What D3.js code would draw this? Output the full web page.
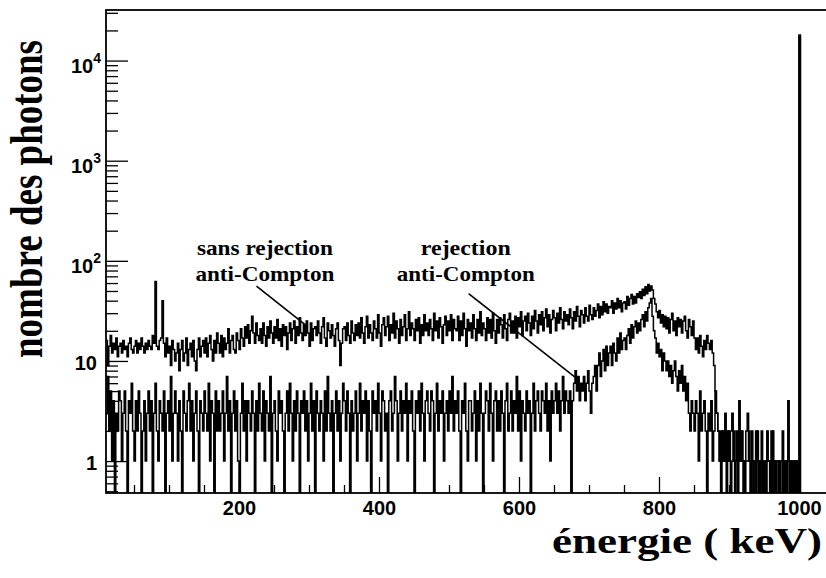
<!DOCTYPE html>
<html>
<head>
<meta charset="utf-8">
<script src="https://cdn.jsdelivr.net/npm/d3@7"></script>
<style>
  body { margin: 0; background: #fff; }
  svg { display: block; background: #fff; }
</style>
</head>
<body>
<svg id="chart"></svg>
<script>
// histogrammes, bins de 2 keV a partir de 10 keV
var binStart = 10;
var binWidth = 2;

// sans rejection anti-Compton
var sansRejection = [
  16, 9, 14, 18, 12, 15, 13, 17, 11, 14,
  15, 12, 16, 13, 14, 11, 15, 17, 13, 12,
  14, 16, 12, 15, 13, 17, 14, 12, 15, 13,
  16, 14, 13, 18, 15, 62, 14, 13, 16, 17,
  40, 15, 11, 17, 12, 14, 9, 16, 13, 10,
  12, 15, 8, 13, 16, 10, 12, 17, 9, 13,
  15, 11, 16, 10, 8, 13, 17, 11, 14, 16,
  12, 17, 11, 15, 18, 13, 10, 16, 12, 19,
  15, 12, 18, 11, 17, 13, 15, 21, 12, 16,
  18, 13, 12, 19, 16, 13, 21, 17, 14, 22,
  17, 23, 15, 20, 28, 19, 15, 24, 18, 16,
  21, 15, 24, 18, 14, 22, 17, 25, 19, 15,
  22, 17, 26, 16, 21, 14, 23, 18, 22, 13,
  19, 24, 16, 21, 25, 15, 22, 18, 27, 19,
  16, 23, 18, 25, 19, 14, 24, 16, 21, 22,
  18, 25, 19, 15, 22, 27, 17, 14, 24, 20,
  17, 23, 18, 14, 21, 24, 16, 9, 15, 21,
  22, 16, 24, 18, 15, 25, 19, 16, 23, 18,
  24, 17, 27, 19, 15, 22, 28, 17, 23, 19,
  16, 25, 21, 17, 29, 19, 14, 23, 27, 18,
  22, 28, 16, 23, 19, 30, 17, 25, 21, 15,
  26, 18, 22, 29, 16, 21, 31, 18, 24, 21,
  16, 26, 20, 27, 15, 23, 18, 29, 20, 24,
  18, 26, 21, 16, 30, 20, 25, 17, 27, 22,
  15, 23, 28, 18, 25, 20, 29, 16, 26, 21,
  20, 28, 16, 25, 18, 30, 21, 14, 26, 20,
  24, 17, 29, 21, 16, 26, 19, 31, 18, 24,
  21, 16, 27, 19, 26, 17, 30, 20, 15, 26,
  19, 27, 23, 17, 29, 21, 16, 26, 30, 19,
  25, 19, 28, 17, 27, 22, 31, 18, 25, 28,
  20, 30, 24, 18, 28, 21, 32, 25, 19, 29,
  23, 31, 20, 27, 33, 22, 29, 19, 26, 32,
  27, 20, 30, 24, 34, 26, 21, 31, 25, 29,
  23, 33, 27, 21, 31, 25, 35, 28, 22, 32,
  29, 24, 34, 28, 25, 36, 29, 26, 34, 28,
  32, 37, 27, 35, 29, 39, 31, 37, 30, 35,
  34, 40, 30, 38, 33, 42, 34, 40, 31, 38,
  39, 33, 44, 36, 42, 46, 37, 44, 38, 47,
  43, 49, 42, 52, 45, 55, 47, 58, 50, 56,
  51, 42, 37, 31, 27, 32, 24, 29, 22, 28,
  21, 27, 19, 26, 30, 20, 25, 18, 27, 22,
  26, 19, 25, 28, 20, 17, 26, 22, 18, 25,
  17, 13, 17, 12, 18, 14, 11, 16, 13, 18,
  15, 13, 16, 12, 9, 5, 3, 2, 1, 2,
  1, 2, 1, 1, 2, 1, 0, 1, 2, 1,
  1, 0, 1, 2, 1, 1, 0, 1, 1, 2,
  1, 1, 0, 1, 2, 1, 0, 1, 1, 0,
  1, 0, 1, 1, 0, 2, 1, 0, 1, 1,
  0, 1, 1, 0, 1, 0, 1, 1, 0, 1,
  1, 0, 1, 0, 1, 18000, 0, 0, 0, 0
];

// avec rejection anti-Compton
var avecRejection = [
  3, 7, 2, 5, 1, 4, 0, 3, 2, 5,
  4, 1, 3, 5, 2, 0, 4, 3, 6, 2,
  1, 4, 2, 5, 3, 0, 2, 4, 1, 3,
  5, 2, 4, 0, 3, 6, 2, 1, 4, 3,
  2, 5, 0, 3, 4, 2, 7, 1, 3, 5,
  3, 1, 4, 2, 0, 5, 3, 2, 4, 6,
  2, 4, 1, 3, 5, 2, 0, 4, 3, 2,
  5, 3, 2, 6, 1, 4, 3, 0, 5, 2,
  4, 2, 3, 5, 1, 3, 7, 2, 4, 0,
  3, 5, 2, 4, 1, 0, 3, 6, 2, 4,
  1, 4, 3, 2, 5, 3, 0, 4, 2, 6,
  3, 2, 5, 1, 4, 3, 2, 7, 0, 3,
  4, 2, 1, 5, 3, 4, 2, 0, 3, 5,
  2, 6, 3, 1, 4, 2, 5, 3, 0, 4,
  3, 5, 2, 4, 1, 3, 6, 2, 4, 0,
  5, 3, 2, 4, 3, 1, 5, 2, 7, 3,
  2, 4, 0, 3, 5, 2, 4, 1, 3, 6,
  4, 2, 5, 3, 0, 4, 2, 3, 5, 1,
  3, 6, 2, 4, 3, 5, 1, 4, 2, 0,
  5, 3, 4, 2, 6, 3, 1, 5, 4, 2,
  3, 0, 4, 5, 2, 3, 7, 4, 1, 3,
  5, 2, 4, 3, 6, 1, 4, 3, 5, 2,
  0, 4, 3, 5, 2, 6, 3, 1, 4, 5,
  3, 2, 5, 4, 0, 3, 6, 2, 4, 3,
  5, 1, 3, 4, 2, 5, 3, 7, 2, 4,
  3, 5, 2, 0, 4, 3, 6, 2, 1, 4,
  4, 2, 3, 5, 1, 4, 2, 6, 3, 0,
  3, 5, 4, 2, 6, 3, 1, 4, 5, 2,
  4, 2, 5, 3, 0, 4, 6, 2, 3, 5,
  2, 4, 3, 7, 2, 5, 1, 4, 3, 2,
  5, 3, 4, 0, 3, 6, 2, 4, 5, 3,
  2, 5, 4, 3, 6, 2, 4, 1, 5, 3,
  4, 6, 3, 5, 2, 4, 7, 3, 5, 4,
  3, 5, 0, 4, 6, 8, 5, 7, 4, 6,
  5, 7, 4, 6, 8, 5, 3, 6, 7, 9,
  5, 9, 12, 7, 10, 13, 8, 14, 9, 12,
  14, 9, 15, 12, 10, 17, 12, 19, 13, 16,
  17, 13, 18, 21, 15, 23, 17, 22, 25, 19,
  24, 20, 26, 29, 22, 31, 25, 34, 38, 42,
  28, 20, 17, 12, 15, 11, 13, 8, 12, 10,
  8, 10, 7, 9, 6, 8, 10, 7, 5, 8,
  6, 9, 5, 7, 4, 6, 3, 2, 4, 3,
  2, 4, 3, 1, 5, 2, 3, 4, 2, 0,
  3, 2, 4, 1, 2, 5, 3, 2, 1, 0,
  2, 1, 3, 0, 2, 1, 2, 3, 1, 0,
  2, 1, 4, 1, 2, 0, 1, 2, 3, 1,
  0, 2, 1, 1, 0, 2, 1, 0, 2, 1,
  1, 0, 2, 1, 1, 0, 2, 1, 0, 1,
  1, 0, 1, 2, 0, 1, 0, 4, 1, 0,
  1, 0, 1, 1, 0, 17500, 0, 0, 0, 0
];

var xMajorTicks = [200, 400, 600, 800, 1000];
var xMinorTicks = [50, 100, 150, 250, 300, 350, 450, 500, 550, 650, 700, 750, 850, 900, 950];
var yMajorTicks = [1, 10, 100, 1000, 10000];
var yTickBase = ["1", "10", "10", "10", "10"];
var yTickExp = ["", "", "2", "3", "4"];
var annotationLeft = ["sans rejection", "anti-Compton"];
var annotationRight = ["rejection", "anti-Compton"];

var width = 826;
var height = 578;
var frameL = 106, frameR = 827, frameT = 10, frameB = 493;

var svg = d3.select("#chart")
  .attr("width", width)
  .attr("height", height);

var x = d3.scaleLinear().domain([10, 1040]).range([frameL, frameR]);
var y = d3.scaleLog().domain([0.48, 32000]).range([frameB, frameT]);

svg.append("defs").append("clipPath")
  .attr("id", "plotclip")
  .append("rect")
  .attr("x", frameL).attr("y", frameT)
  .attr("width", frameR - frameL).attr("height", frameB - frameT);

function histPoints(values) {
  var pts = values.map(function (v, i) { return [binStart + i * binWidth, v]; });
  pts.push([binStart + values.length * binWidth, values[values.length - 1]]);
  return pts;
}

var histLine = d3.line()
  .x(d => x(d[0]))
  .y(d => y(Math.max(d[1], 0.3)))
  .curve(d3.curveStepAfter);

var hists = svg.append("g").attr("clip-path", "url(#plotclip)");

[avecRejection, sansRejection].forEach(function (serie) {
  hists.append("path")
    .attr("d", histLine(histPoints(serie)))
    .attr("fill", "none")
    .attr("stroke", "#000")
    .attr("stroke-width", 1.5);
});

// minor y ticks: 2..9 per decade
var yMinorTicks = [];
d3.range(-1, 5).forEach(function (n) {
  d3.range(2, 10).forEach(function (k) {
    var v = k * Math.pow(10, n);
    if (v >= 0.48 && v <= 32000) yMinorTicks.push(v);
  });
});

function styleAxis(g) {
  g.select(".domain").remove();
  g.selectAll(".tick line").attr("stroke", "#000").attr("stroke-width", 1.3);
}

svg.append("g")
  .attr("transform", "translate(" + frameL + ",0)")
  .call(d3.axisLeft(y).tickValues(yMinorTicks).tickSize(-12).tickFormat(""))
  .call(styleAxis);

svg.append("g")
  .attr("transform", "translate(" + frameL + ",0)")
  .call(d3.axisLeft(y).tickValues(yMajorTicks).tickSize(-22).tickFormat(""))
  .call(styleAxis);

svg.append("g")
  .attr("transform", "translate(0," + frameB + ")")
  .call(d3.axisBottom(x).tickValues(xMinorTicks).tickSize(-8).tickFormat(""))
  .call(styleAxis);

var xAxis = svg.append("g")
  .attr("transform", "translate(0," + frameB + ")")
  .call(d3.axisBottom(x).tickValues(xMajorTicks).tickSize(-16).tickPadding(8).tickFormat(d3.format("d")))
  .call(styleAxis);

xAxis.selectAll(".tick text")
  .attr("fill", "#000")
  .style("font-family", "'Liberation Sans', Arial, sans-serif")
  .style("font-weight", "bold")
  .style("font-size", "20px");

// y tick labels with exponents
var yLabels = svg.append("g")
  .style("font-family", "'Liberation Sans', Arial, sans-serif")
  .style("font-weight", "bold")
  .attr("fill", "#000");

yMajorTicks.forEach(function (v, i) {
  var hasExp = yTickExp[i] !== "";
  var t = yLabels.append("text")
    .attr("x", hasExp ? 101 : 97)
    .attr("y", y(v) + (hasExp ? 12 : 9))
    .attr("text-anchor", "end")
    .style("font-size", "20px");
  t.append("tspan").text(yTickBase[i]);
  if (hasExp) {
    t.append("tspan").attr("dy", -10).style("font-size", "14px").text(yTickExp[i]);
  }
});

// frame
svg.append("rect")
  .attr("x", frameL).attr("y", frameT)
  .attr("width", frameR - frameL).attr("height", frameB - frameT)
  .attr("fill", "none")
  .attr("stroke", "#000")
  .attr("stroke-width", 1.8);

// axis titles
svg.append("text")
  .attr("transform", "translate(42,199) scale(1.3,1) rotate(-90)")
  .attr("text-anchor", "middle")
  .attr("textLength", 318)
  .attr("lengthAdjust", "spacingAndGlyphs")
  .style("font-family", "'Liberation Serif', 'Times New Roman', serif")
  .style("font-weight", "bold")
  .style("font-size", "35px")
  .text("nombre des photons");

svg.append("text")
  .attr("x", 552)
  .attr("y", 553)
  .attr("textLength", 270)
  .attr("lengthAdjust", "spacingAndGlyphs")
  .style("font-family", "'Liberation Serif', 'Times New Roman', serif")
  .style("font-weight", "bold")
  .style("font-size", "35px")
  .text("énergie ( keV)");

// annotations
var annot = svg.append("g")
  .style("font-family", "'Liberation Serif', 'Times New Roman', serif")
  .style("font-weight", "bold")
  .style("font-size", "21px");

function addAnnotation(lines, cx, widths) {
  lines.forEach(function (s, i) {
    annot.append("text")
      .attr("x", x(cx))
      .attr("y", y(i === 0 ? 115 : 63))
      .attr("text-anchor", "middle")
      .attr("textLength", widths[i])
      .attr("lengthAdjust", "spacingAndGlyphs")
      .text(s);
  });
}
addAnnotation(annotationLeft, 237, [136, 139]);
addAnnotation(annotationRight, 524, [90, 138]);

var pointers = [
  [[225, 56], [298, 22]],
  [[528, 47], [680, 6.9]]
];
svg.append("g").selectAll("line")
  .data(pointers)
  .enter().append("line")
  .attr("x1", d => x(d[0][0]))
  .attr("y1", d => y(d[0][1]))
  .attr("x2", d => x(d[1][0]))
  .attr("y2", d => y(d[1][1]))
  .attr("stroke", "#000")
  .attr("stroke-width", 1.6);
</script>
</body>
</html>
